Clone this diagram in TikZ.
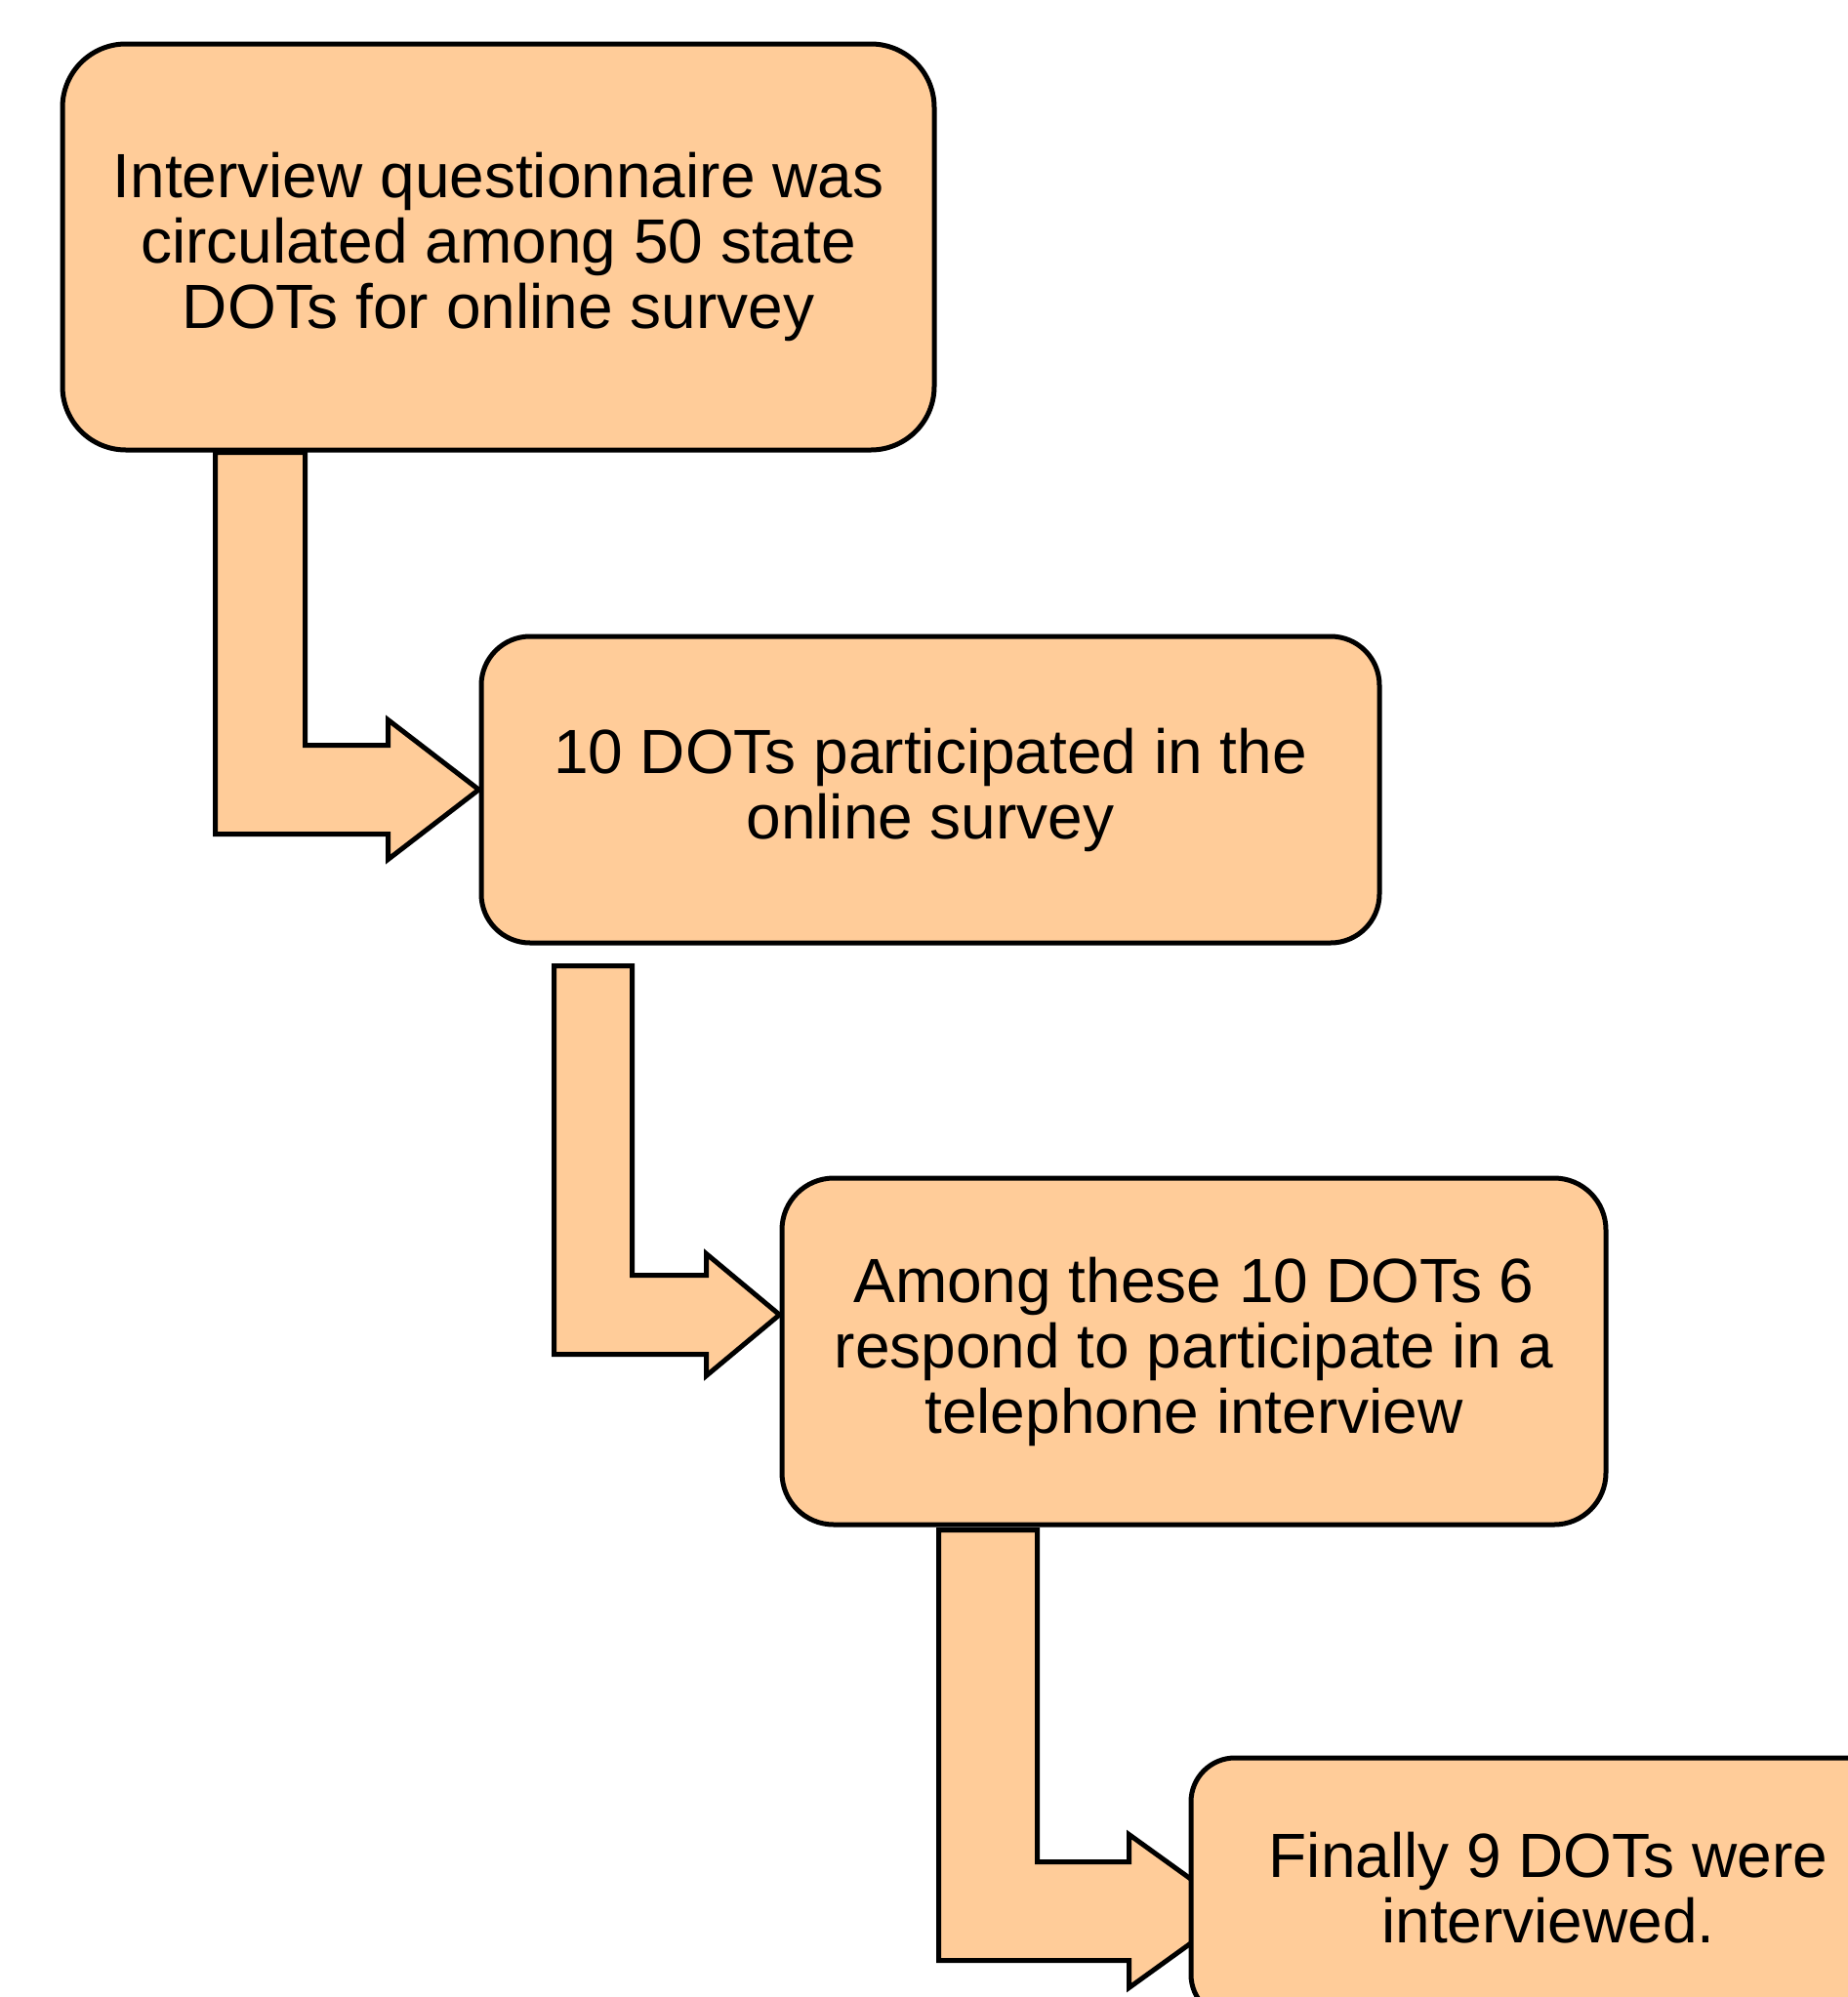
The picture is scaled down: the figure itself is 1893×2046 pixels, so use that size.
\documentclass[tikz,border=0pt]{standalone}
\usepackage{fontspec}
\setmainfont{Liberation Sans}
\usetikzlibrary{calc,backgrounds}
\definecolor{peach}{HTML}{FFCC99}
\tikzset{
  box/.style={draw, fill=peach, line width=2.5pt, inner sep=0pt, align=center,
    font=\fontsize{32}{33.5}\selectfont},
  bent/.style={draw, fill=peach, line width=2.5pt, line join=miter}
}
% #1 top left of the stem, #2 tip, #3 stem width, #4 half arm, #5 half head, #6 head length
\newcommand{\bentarrow}[6]{%
  \draw[bent] let \p1=#1, \p2=#2 in
    (\x1,\y1) -- (\x1+#3,\y1) -- (\x1+#3,\y2+#4) -- (\x2-#6,\y2+#4)
    -- (\x2-#6,\y2+#5) -- (\x2,\y2) -- (\x2-#6,\y2-#5) -- (\x2-#6,\y2-#4)
    -- (\x1,\y2-#4) -- cycle;}

\begin{document}
\begin{tikzpicture}[x=0.5pt,y=-0.5pt]
    \useasboundingbox (0,0) rectangle (1893,2046);
    \clip (0,0) rectangle (1893,2046);
    \node[box, minimum width=446.5pt, minimum height=208pt, rounded corners=32.5pt] (a) at (510.5, 253)
      {Interview questionnaire was\\circulated among 50 state\\DOTs for online survey};
    \node[box, minimum width=460pt, minimum height=157pt, rounded corners=25pt] (b) at (953, 809)
      {10 DOTs participated in the\\online survey};
    \node[box, minimum width=422pt, minimum height=177.5pt, rounded corners=26.5pt] (c) at (1223, 1384.5)
      {Among these 10 DOTs 6\\respond to participate in a\\telephone interview};
    \node[box, minimum width=366pt, minimum height=133.5pt, rounded corners=22.5pt] (d) at (1586, 1934.5)
      {Finally 9 DOTs were\\interviewed.};
    \begin{pgfonlayer}{background}
      \bentarrow{([xshift=79.5pt]a.south west)}{(b.west)}{46pt}{22.75pt}{35.75pt}{46.5pt}
      \bentarrow{([xshift=38.5pt,yshift=-10.5pt]b.south west)}{([yshift=18.75pt]c.west)}{40pt}{20.25pt}{31.25pt}{37.5pt}
      \bentarrow{([xshift=81.5pt,yshift=-1.5pt]c.south west)}{([xshift=24pt,yshift=-11.75pt]d.west)}{50.5pt}{25.25pt}{39.25pt}{54.5pt}
    \end{pgfonlayer}
\end{tikzpicture}
\end{document}
